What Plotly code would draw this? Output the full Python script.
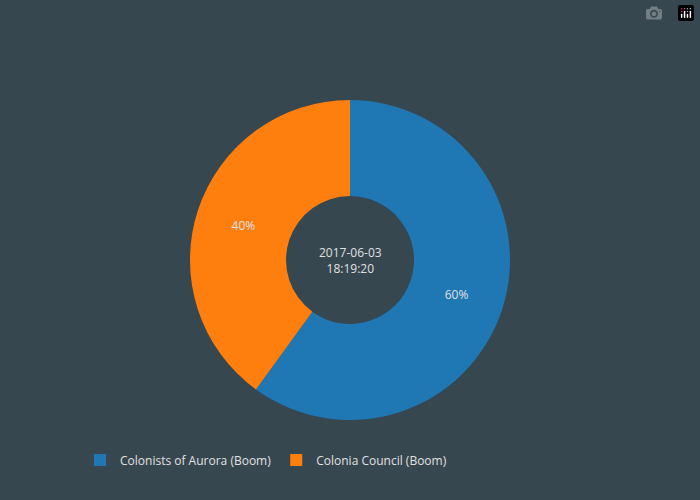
import plotly.graph_objects as go

labels = ["Colonists of Aurora (Boom)", "Colonia Council (Boom)"]
values = [60, 40]
colors = ["#1f77b4", "#ff7f0e"]
center_text = "2017-06-03<br>18:19:20"

fig = go.Figure(go.Pie(labels=labels, values=values, hole=0.4, sort=False,
                       marker=dict(colors=colors), textinfo="percent",
                       textfont=dict(color="#e0e0e0", size=12)))
fig.update_layout(
    width=700, height=500,
    paper_bgcolor="#37474f", plot_bgcolor="#37474f",
    font=dict(family="Open Sans", color="#d8d8d8", size=12),
    legend=dict(orientation="h", x=0, xanchor="left", y=-0.08, font=dict(color="#e0e0e0")),
    annotations=[dict(text=center_text, showarrow=False, x=0.5, y=0.5,
                      font=dict(size=12, color="#e0e0e0"))],
)
fig.write_html("out.html", post_script="document.body.style.margin='0';")
